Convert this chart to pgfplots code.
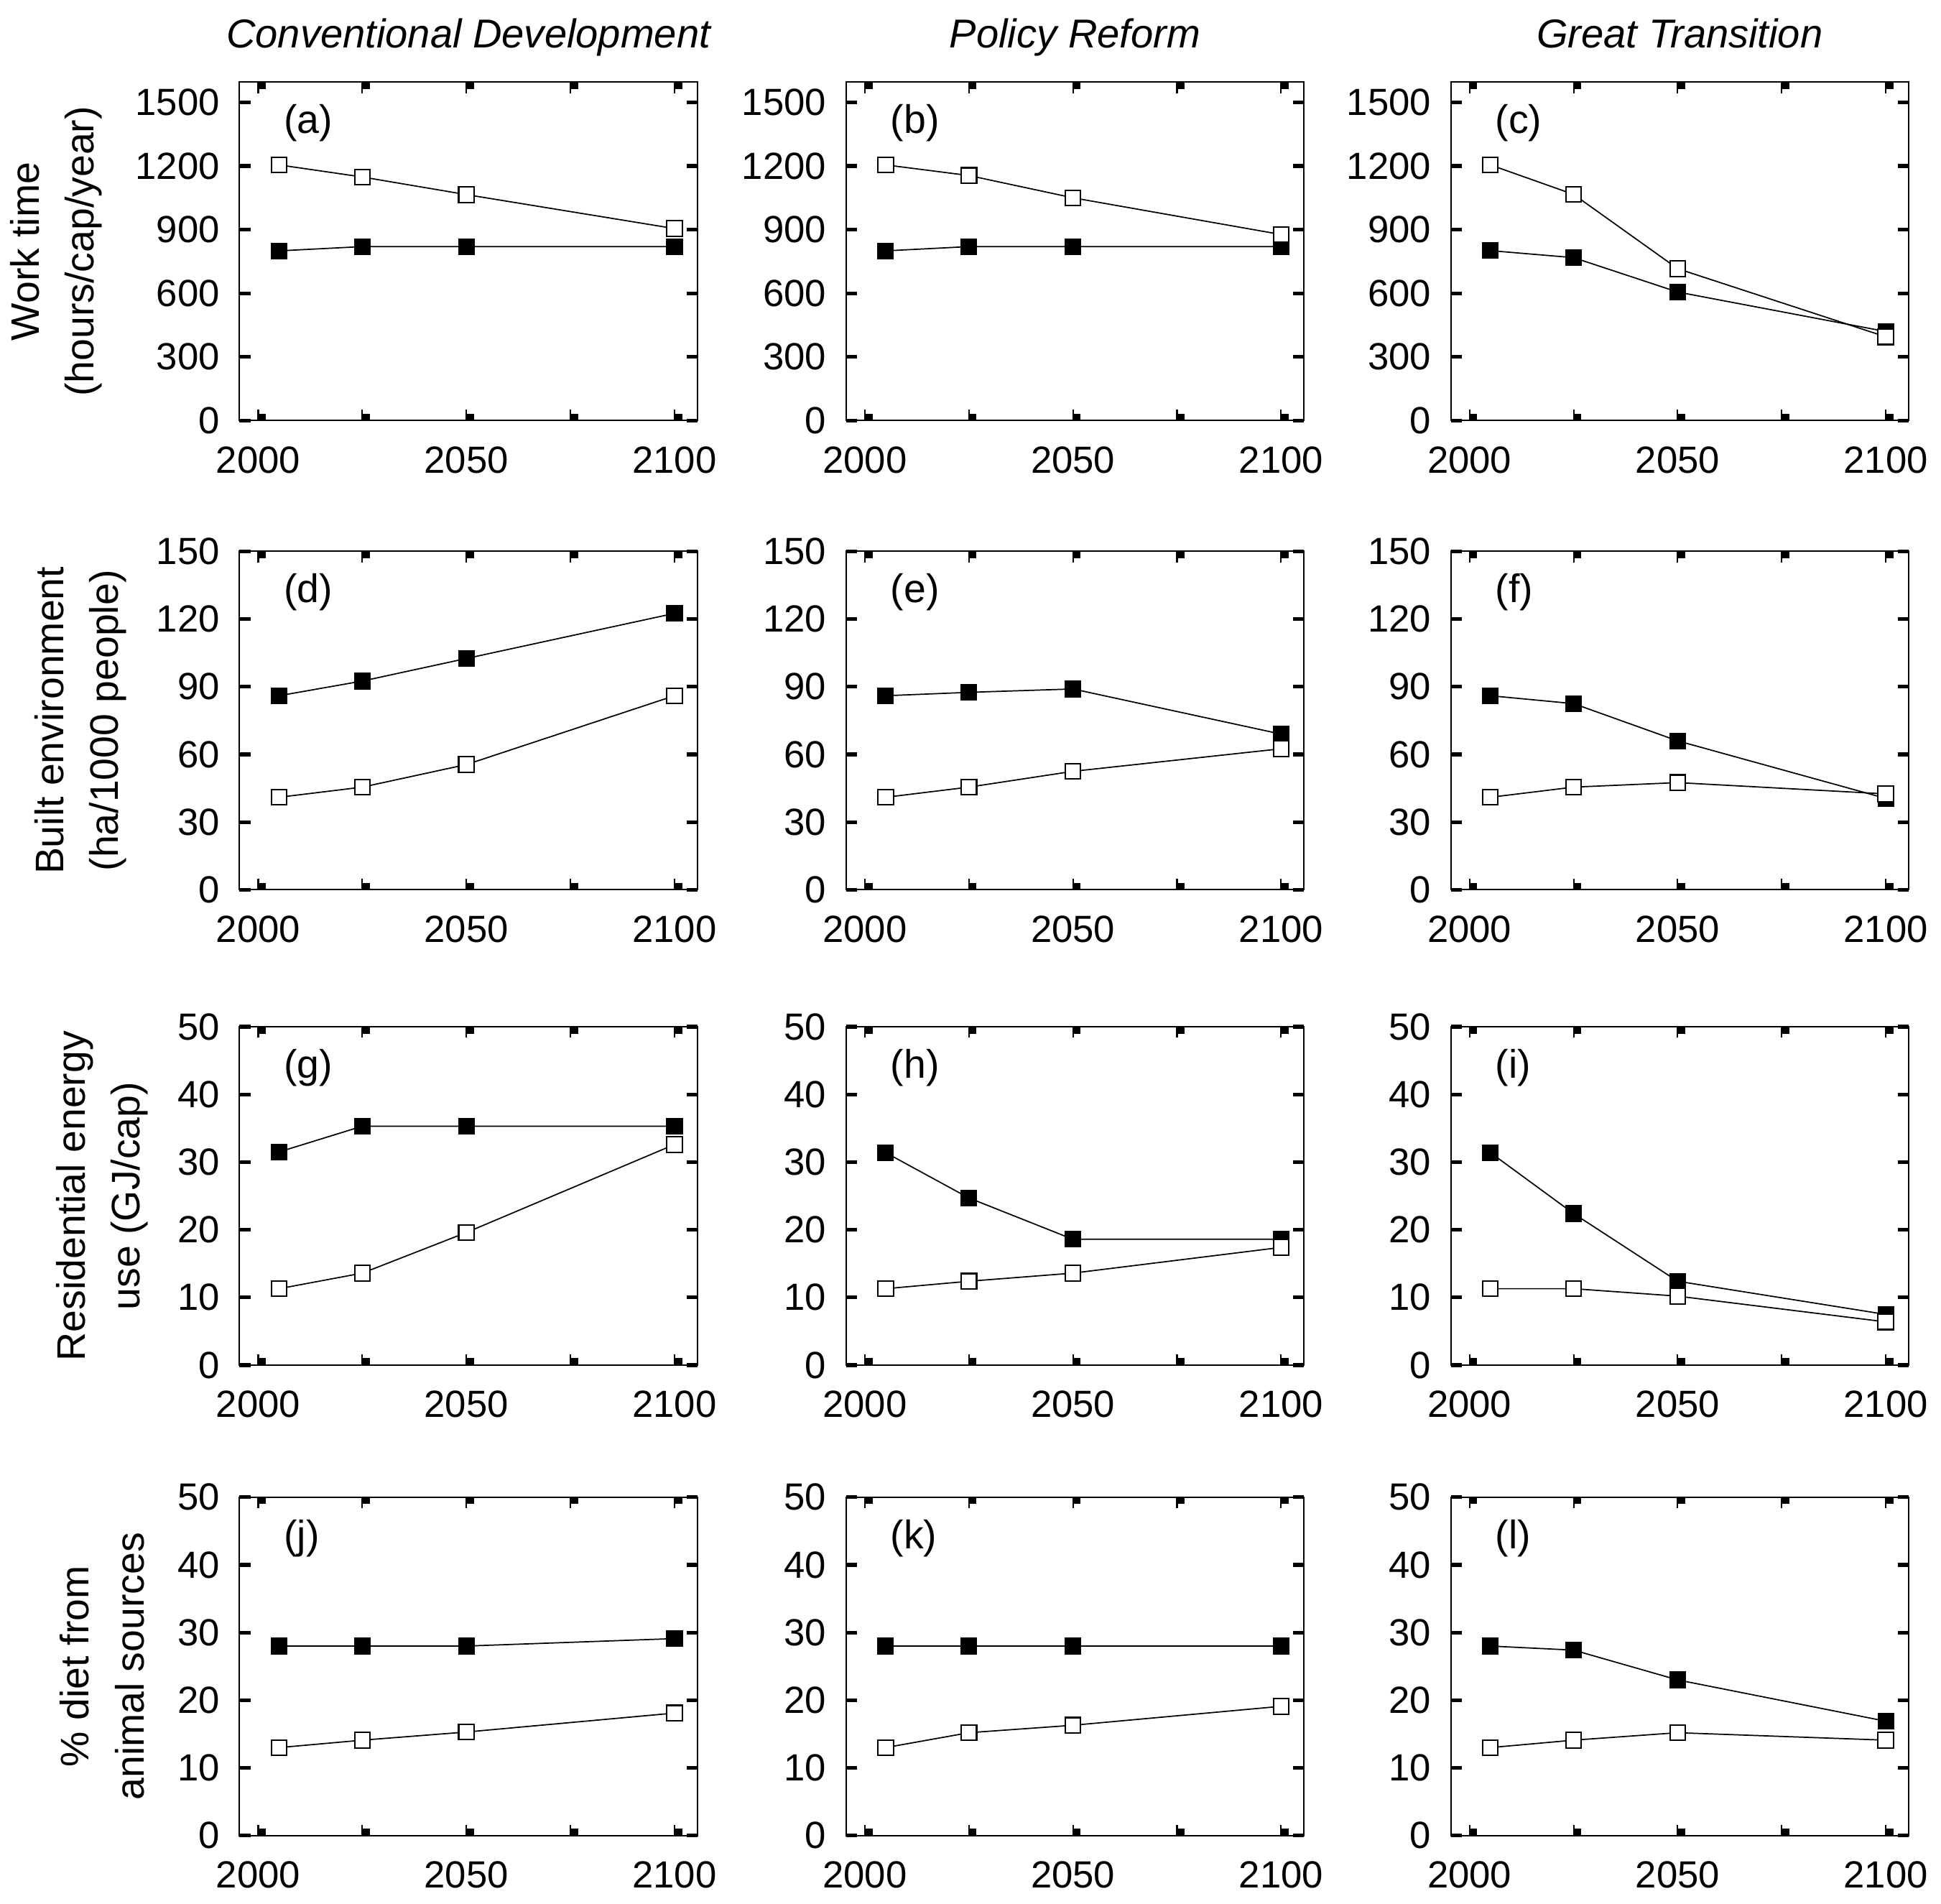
\documentclass[border=0pt]{standalone}
\usepackage{fontspec}
\setmainfont{Liberation Sans}
\usepackage{pgfplots}
\pgfplotsset{compat=1.18}
\newcommand\tickfont{\fontsize{7.6}{8}\selectfont}
\newcommand\labfont{\fontsize{8}{11}\selectfont}
\newcommand\titfont{\fontsize{8.1}{9}\selectfont\itshape}
\pgfplotsset{
  panel/.style={
    scale only axis, width=92pt, height=68pt,
    xmin=1995.5, xmax=2105.5, ymin=0,
    xtick={2000,2025,2050,2075,2100},
    xticklabels={2000,,2050,,2100},
    axis line style={line width=0.3pt, black},
    major tick length=2.2pt,
    tick align=inside,
    xtick style={line width=0.3pt, black},
    ytick style={line width=0.75pt, black},
    extra x ticks={2000,2025,2050,2075,2100},
    extra x tick labels={},
    extra x tick style={grid=none, major tick length=1.4pt, xtick style={line width=1.5pt, xshift=0.8pt, black}},
    xticklabel style={font=\tickfont, inner sep=0pt, yshift=-5pt},
    yticklabel style={font=\tickfont, inner sep=0pt, xshift=-3.8pt},
    /pgf/number format/assume math mode=true,
    /pgf/number format/1000 sep={},
    ylabel style={font=\labfont, align=center, anchor=center},
    clip=false,
  },
  r1/.style={ymax=1595, ytick={0,300,...,1500}},
  r2/.style={ymax=150, ytick={0,30,...,150}},
  r3/.style={ymax=50, ytick={0,10,...,50}},
  fil/.style={black, line width=0.25pt, mark=square*, mark size=1.55pt, mark options={solid, fill=black, draw=black}},
  opn/.style={black, line width=0.25pt, mark=square*, mark size=1.55pt, mark options={solid, fill=white, draw=black, line width=0.3pt}},
}
\newcommand\plab[1]{\node[anchor=west, inner sep=0pt, font=\labfont] at (axis description cs:0.095,0.879) {(#1)};}
\newcommand\ptitle[1]{\node[anchor=base, inner sep=0pt, font=\titfont, yshift=6.9pt] at (axis description cs:0.5,1) {#1};}
\begin{document}
\begin{tikzpicture}
\path[use as bounding box] (0,0) rectangle (390pt,-382.35pt);
% Row 1
\begin{axis}[panel, r1, at={(48.125pt,-16.5pt)}, anchor=north west,
  ylabel={Work time\\(hours/cap/year)}, ylabel style={at={(axis description cs:-0.40,0.5)}}]
\addplot[fil] coordinates {(2005,800) (2025,820) (2050,820) (2100,820)};
\addplot[opn] coordinates {(2005,1205) (2025,1148) (2050,1065) (2100,905)};
\plab{a}
\ptitle{Conventional Development}
\end{axis}
\begin{axis}[panel, r1, at={(170pt,-16.5pt)}, anchor=north west]
\addplot[fil] coordinates {(2005,800) (2025,820) (2050,820) (2100,820)};
\addplot[opn] coordinates {(2005,1205) (2025,1155) (2050,1050) (2100,877)};
\plab{b}
\ptitle{Policy Reform}
\end{axis}
\begin{axis}[panel, r1, at={(291.5pt,-16.5pt)}, anchor=north west]
\addplot[fil] coordinates {(2005,801) (2025,768) (2050,606) (2100,420)};
\addplot[opn] coordinates {(2005,1205) (2025,1066) (2050,716) (2100,395)};
\plab{c}
\ptitle{Great Transition}
\end{axis}
% Row 2
\begin{axis}[panel, r2, at={(48.125pt,-110.75pt)}, anchor=north west,
  ylabel={Built environment\\(ha/1000 people)}, ylabel style={at={(axis description cs:-0.347,0.5)}}]
\addplot[fil] coordinates {(2005,86) (2025,92.5) (2050,102.5) (2100,122.5)};
\addplot[opn] coordinates {(2005,41) (2025,45.5) (2050,55.5) (2100,86)};
\plab{d}
\end{axis}
\begin{axis}[panel, r2, at={(170pt,-110.75pt)}, anchor=north west]
\addplot[fil] coordinates {(2005,86) (2025,87.5) (2050,89) (2100,69)};
\addplot[opn] coordinates {(2005,41) (2025,45.5) (2050,52.5) (2100,62.5)};
\plab{e}
\end{axis}
\begin{axis}[panel, r2, at={(291.5pt,-110.75pt)}, anchor=north west]
\addplot[fil] coordinates {(2005,86) (2025,82.5) (2050,66) (2100,40.5)};
\addplot[opn] coordinates {(2005,41) (2025,45.5) (2050,47.5) (2100,42.5)};
\plab{f}
\end{axis}
% Row 3
\begin{axis}[panel, r3, at={(48.125pt,-206.25pt)}, anchor=north west,
  ylabel={Residential energy\\use (GJ/cap)}, ylabel style={at={(axis description cs:-0.30,0.5)}}]
\addplot[fil] coordinates {(2005,31.5) (2025,35.3) (2050,35.3) (2100,35.3)};
\addplot[opn] coordinates {(2005,11.3) (2025,13.6) (2050,19.6) (2100,32.6)};
\plab{g}
\end{axis}
\begin{axis}[panel, r3, at={(170pt,-206.25pt)}, anchor=north west]
\addplot[fil] coordinates {(2005,31.4) (2025,24.7) (2050,18.6) (2100,18.6)};
\addplot[opn] coordinates {(2005,11.3) (2025,12.4) (2050,13.6) (2100,17.4)};
\plab{h}
\end{axis}
\begin{axis}[panel, r3, at={(291.5pt,-206.25pt)}, anchor=north west]
\addplot[fil] coordinates {(2005,31.4) (2025,22.4) (2050,12.4) (2100,7.5)};
\addplot[opn] coordinates {(2005,11.3) (2025,11.3) (2050,10.2) (2100,6.4)};
\plab{i}
\end{axis}
% Row 4
\begin{axis}[panel, r3, at={(48.125pt,-300.75pt)}, anchor=north west,
  ylabel={\% diet from\\animal sources}, ylabel style={at={(axis description cs:-0.30,0.5)}}]
\addplot[fil] coordinates {(2005,28) (2025,28) (2050,28) (2100,29.1)};
\addplot[opn] coordinates {(2005,13) (2025,14.1) (2050,15.3) (2100,18.1)};
\plab{j}
\end{axis}
\begin{axis}[panel, r3, at={(170pt,-300.75pt)}, anchor=north west]
\addplot[fil] coordinates {(2005,28) (2025,28) (2050,28) (2100,28)};
\addplot[opn] coordinates {(2005,13) (2025,15.2) (2050,16.3) (2100,19.1)};
\plab{k}
\end{axis}
\begin{axis}[panel, r3, at={(291.5pt,-300.75pt)}, anchor=north west]
\addplot[fil] coordinates {(2005,28) (2025,27.4) (2050,23) (2100,16.9)};
\addplot[opn] coordinates {(2005,13) (2025,14.1) (2050,15.2) (2100,14.1)};
\plab{l}
\end{axis}
\end{tikzpicture}
\end{document}
